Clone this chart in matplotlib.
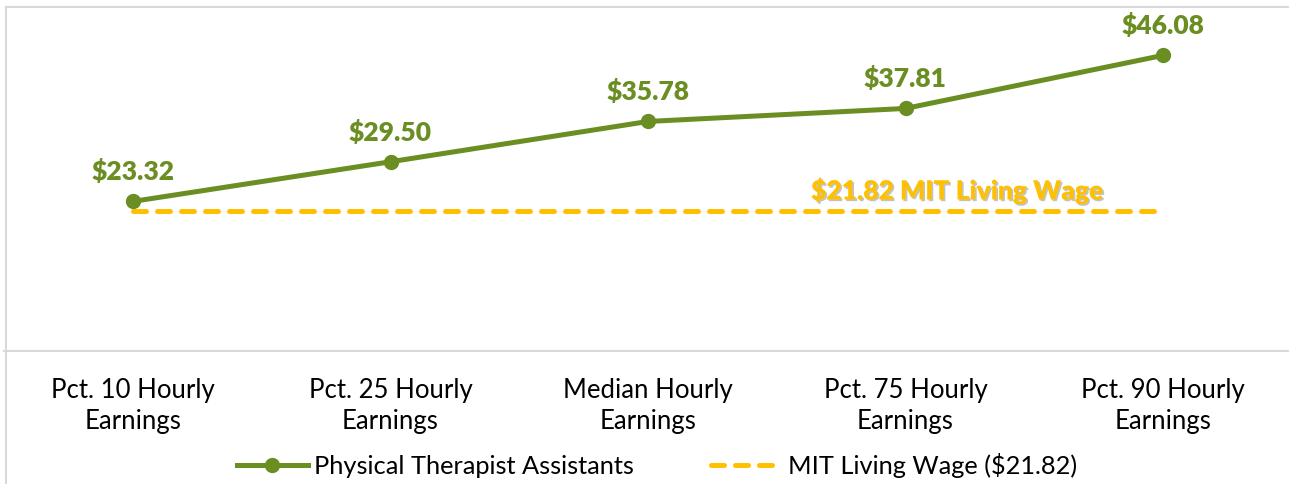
import matplotlib
matplotlib.use("Agg")
import matplotlib.pyplot as plt
import matplotlib.patheffects as pe
from matplotlib.lines import Line2D

categories = ["Pct. 10 Hourly\nEarnings", "Pct. 25 Hourly\nEarnings", "Median Hourly\nEarnings",
              "Pct. 75 Hourly\nEarnings", "Pct. 90 Hourly\nEarnings"]
wages = [23.32, 29.50, 35.78, 37.81, 46.08]
living_wage = 21.82
series_name = "Physical Therapist Assistants"
living_name = "MIT Living Wage ($21.82)"
living_label = "$21.82 MIT Living Wage"

GREEN = "#6B8E23"
GOLD = "#FFC000"
GRID = "#D9D9D9"

plt.rcParams['font.family'] = ['Lato', 'DejaVu Sans']

W, H = 1289, 485
fig = plt.figure(figsize=(W / 100, H / 100), dpi=100)
left = 4.25 / W
right = 1291.75 / W
bottom = (H - 352) / H
top = (H - 7.5) / H
ax = fig.add_axes([left, bottom, right - left, top - bottom])

x = list(range(len(categories)))
ax.plot(x, [living_wage] * len(x), color=GOLD, lw=3.6, ls=(0, (2.6, 2.2)),
        dash_capstyle='round', label=living_name, zorder=2)
ax.plot(x, wages, color=GREEN, lw=3.6, marker='o', ms=10, label=series_name, zorder=3)

for xi, v in zip(x, wages):
    ax.annotate(f"${v:.2f}", (xi, v), xytext=(0, 22), textcoords='offset points',
                ha='center', va='center', fontsize=19, fontweight='heavy', color=GREEN)

ax.text(3.2, living_wage + 3.2, living_label, ha='center', va='center', fontsize=19,
        fontweight='heavy', color=GOLD,
        path_effects=[pe.SimplePatchShadow(offset=(1.2, -1.2), shadow_rgbFace='#888888', alpha=0.5), pe.Normal()])

ax.set_xlim(-0.5, 4.5)
ax.set_ylim(0, 53.7)
ax.set_xticks(x)
ax.set_xticklabels(categories, fontsize=18.5, color='black', linespacing=1.3)
ax.tick_params(axis='x', length=0, pad=19)
ax.set_yticks([])
for s in ['top', 'left', 'right']:
    ax.spines[s].set_visible(False)
ax.spines['bottom'].set_color(GRID)
ax.spines['bottom'].set_linewidth(1.5)

# chart frame lines
fig.add_artist(Line2D([6 / W, 6 / W], [0, (H - 7.5) / H], color=GRID, lw=1.5, transform=fig.transFigure))
fig.add_artist(Line2D([6 / W, 1], [(H - 7.5) / H] * 2, color=GRID, lw=1.5, transform=fig.transFigure))

h_green = Line2D([], [], color=GREEN, lw=3.6, marker='o', ms=10)
h_gold = Line2D([], [], color=GOLD, lw=3.6, ls=(0, (2.6, 2.2)), dash_capstyle='round')
fig.legend([h_green, h_gold], [series_name, living_name], loc='center',
           bbox_to_anchor=(657 / W, (H - 466) / H), ncol=2, frameon=False,
           fontsize=18.3, handlelength=2.8, handletextpad=0.25, columnspacing=3.0)

fig.savefig("out.png", dpi=100)
